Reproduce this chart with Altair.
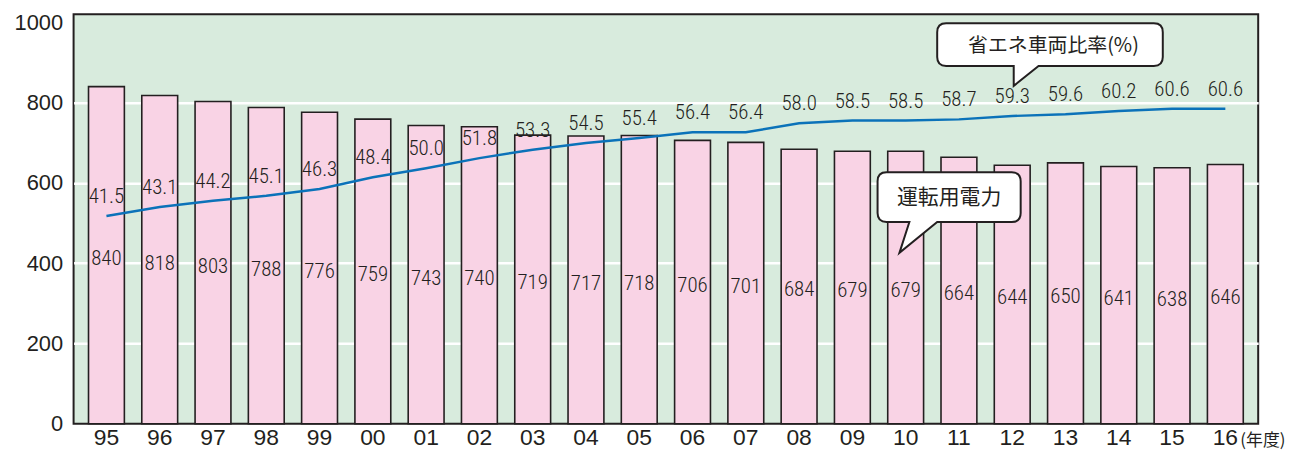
import altair as alt
import pandas as pd

years = ["95", "96", "97", "98", "99", "00", "01", "02", "03", "04", "05",
         "06", "07", "08", "09", "10", "11", "12", "13", "14", "15", "16"]
power = [840, 818, 803, 788, 776, 759, 743, 740, 719, 717, 718,
         706, 701, 684, 679, 679, 664, 644, 650, 641, 638, 646]
ratio = [41.5, 43.1, 44.2, 45.1, 46.3, 48.4, 50.0, 51.8, 53.3, 54.5, 55.4,
         56.4, 56.4, 58.0, 58.5, 58.5, 58.7, 59.3, 59.6, 60.2, 60.6, 60.6]
y_ticks = [0, 200, 400, 600, 800, 1000]
ratio_label = "省エネ車両比率(%)"
power_label = "運転用電力"
unit_label = "(年度)"

df = pd.DataFrame({"year": years, "power": power, "ratio": ratio})

W, H = 1192, 412
DARK = "#231f20"
NUM_FONT = "Roboto Condensed"

x = alt.X("year:N", sort=years, title=None,
          scale=alt.Scale(paddingInner=0.327, paddingOuter=0.28),
          axis=alt.Axis(labelAngle=0, labelFontSize=23, labelColor=DARK,
                        labelFont="Liberation Sans", ticks=False, tickSize=0,
                        domain=False, labelPadding=3))

bar_scale = alt.Scale(domain=[0, 1020], nice=False, zero=True)
line_scale = alt.Scale(domain=[4.5, 77.4], nice=False, zero=False)

base = alt.Chart(df)

bars = base.mark_bar(fill="#f9d3e5", stroke=DARK, strokeWidth=1.6).encode(
    x=x,
    y=alt.Y("power:Q", scale=bar_scale, title=None,
            axis=alt.Axis(values=y_ticks, format="d", labelFontSize=22, labelColor=DARK,
                          labelFont="Liberation Sans", ticks=False, tickSize=0,
                          domain=False, labelPadding=11,
                          gridColor={"condition": {"test": "datum.value <= 0 || datum.value >= 1000",
                                                   "value": "transparent"},
                                     "value": "white"},
                          gridWidth=2.5, gridOpacity=1)),
)

bar_text = base.transform_calculate(half="datum.power / 2").mark_text(
    font=NUM_FONT, fontSize=21, fontWeight=300, color=DARK, baseline="middle", dy=4
).encode(
    x=x,
    y=alt.Y("half:Q", scale=bar_scale, axis=None),
    text=alt.Text("power:Q"),
)

line = base.mark_line(color="#0b72b9", strokeWidth=2.5).encode(
    x=x,
    y=alt.Y("ratio:Q", scale=line_scale, axis=None),
)

line_text = base.mark_text(
    font=NUM_FONT, fontSize=21, fontWeight=300, color=DARK, baseline="middle", dy=-19
).encode(
    x=x,
    y=alt.Y("ratio:Q", scale=line_scale, axis=None),
    text=alt.Text("ratio:Q", format=".1f"),
)


def callout_path(w, h, r, base1, tip, base2, R):
    hw, hh = w / 2, h / 2
    pts = [
        ("M", (-hw + r, -hh)), ("L", (hw - r, -hh)),
        ("Q", (hw, -hh), (hw, -hh + r)), ("L", (hw, hh - r)),
        ("Q", (hw, hh), (hw - r, hh)),
        ("L", base2), ("L", tip), ("L", base1),
        ("L", (-hw + r, hh)),
        ("Q", (-hw, hh), (-hw, hh - r)), ("L", (-hw, -hh + r)),
        ("Q", (-hw, -hh), (-hw + r, -hh)),
    ]
    out = []
    for p in pts:
        cmd = p[0]
        coords = " ".join(f"{c[0] / R:.4f} {c[1] / R:.4f}" for c in p[1:])
        out.append(f"{cmd} {coords}")
    return " ".join(out) + " Z"


R = 150
one = alt.Chart(pd.DataFrame({"k": [0]}))

ratio_box = one.mark_point(
    shape=callout_path(227, 43, 9, (-36.5, 21.5), (-36.5, 41.5), (-11.5, 21.5), R),
    size=(2 * R) ** 2, fill="white", stroke=DARK, strokeWidth=2, filled=True, opacity=1
).encode(x=alt.value(982.5), y=alt.value(30.5))
ratio_txt = one.mark_text(
    text=ratio_label, font="Noto Sans CJK JP", fontSize=20, color=DARK,
    align="center", baseline="middle"
).encode(x=alt.value(986), y=alt.value(32))

power_box = one.mark_point(
    shape=callout_path(144, 50, 9, (-40, 25), (-50, 56), (-12, 25), R),
    size=(2 * R) ** 2, fill="white", stroke=DARK, strokeWidth=2, filled=True, opacity=1
).encode(x=alt.value(881), y=alt.value(184))
power_txt = one.mark_text(
    text=power_label, font="Noto Sans CJK JP", fontSize=21, color=DARK,
    align="center", baseline="middle"
).encode(x=alt.value(881), y=alt.value(185))

unit_txt = one.mark_text(
    text=unit_label, font="Noto Sans CJK JP", fontSize=17, color=DARK,
    align="left", baseline="middle"
).encode(x=alt.value(1174), y=alt.value(429))

chart = alt.layer(
    bars, bar_text, line, line_text,
    ratio_box, ratio_txt, power_box, power_txt, unit_txt
).resolve_scale(y="independent").properties(
    width=W, height=H,
    autosize=alt.AutoSizeParams(type="none"),
    padding={"left": 66, "top": 5, "right": 31, "bottom": 25},
).configure_view(
    fill="#d8ebdd", stroke=DARK, strokeWidth=2
)

chart.save("out.html", embed_options={"renderer": "svg", "actions": False})
